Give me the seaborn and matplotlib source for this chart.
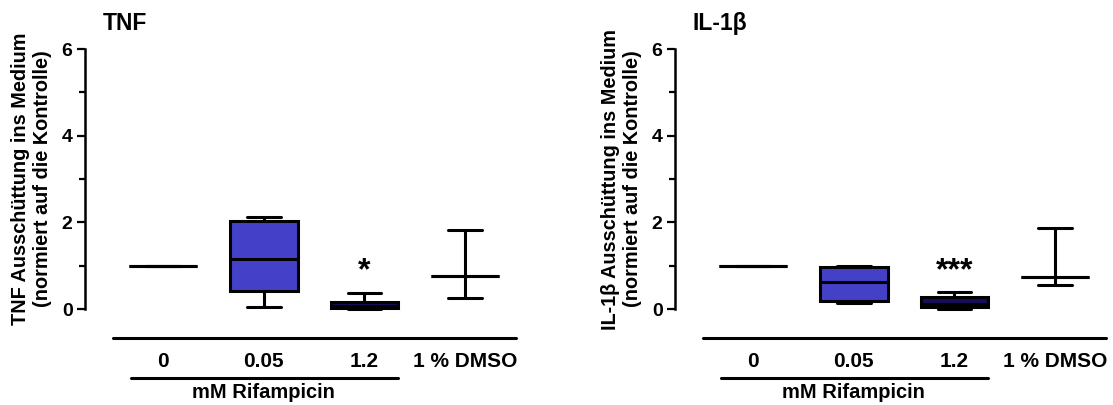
import numpy as np
import pandas as pd
import matplotlib
matplotlib.use("Agg")
import matplotlib.pyplot as plt
import matplotlib.transforms as mtrans
import seaborn as sns

# Categories / labels
groups = ["0", "0.05", "1.2", "1 % DMSO"]
group_label = "mM Rifampicin"

# TNF (min, Q1, median, Q3, max)
tnf_0 = [1.0, 1.0, 1.0, 1.0, 1.0]
tnf_005 = [0.05, 0.42, 1.15, 2.04, 2.12]
tnf_12 = [0.0, 0.02, 0.08, 0.17, 0.36]
tnf_dmso = [0.25, 0.76, 0.76, 0.76, 1.82]

# IL-1beta
il_0 = [1.0, 1.0, 1.0, 1.0, 1.0]
il_005 = [0.14, 0.18, 0.62, 0.97, 1.0]
il_12 = [0.0, 0.05, 0.12, 0.28, 0.40]
il_dmso = [0.55, 0.74, 0.74, 0.74, 1.87]

tnf_stars = "*"
il_stars = "***"

box_colors = {"0": "white", "0.05": "#4440C8", "1.2": "#1A0C5A", "1 % DMSO": "white"}

sns.set_style("ticks")
plt.rcParams["font.family"] = ["Liberation Sans", "DejaVu Sans"]
plt.rcParams["font.weight"] = "bold"
plt.rcParams["text.color"] = "black"
plt.rcParams["axes.edgecolor"] = "black"
plt.rcParams["xtick.color"] = "black"
plt.rcParams["ytick.color"] = "black"


def make_df(vals) :
    rows = []
    for g, v in zip(groups, vals) :
        for x in v :
            rows.append((g, x))
    return pd.DataFrame(rows, columns = ["group", "value"])


def draw_panel(ax, df, title, ylabel, stars) :
    sns.boxplot(
        data = df, x = "group", y = "value", hue = "group",
        order = groups, hue_order = groups, palette = box_colors, saturation = 1,
        whis = (0, 100), width = 0.67, linewidth = 2.2, linecolor = "black",
        fliersize = 0, legend = False, ax = ax
    )
    ax.set_xlim(-0.775, 3.5)
    ax.set_ylim(-0.2, 6.1)

    for s in ["top", "right", "bottom"] :
        ax.spines[s].set_visible(False)
    ax.spines["left"].set_linewidth(1.8)
    ax.spines["left"].set_color("black")
    ax.spines["left"].set_bounds(0, 6)

    ax.set_yticks([0, 2, 4, 6])
    ax.set_yticks([1, 3, 5], minor = True)
    ax.tick_params(axis = "y", which = "major", length = 6, width = 1.6, pad = 3,
                   labelsize = 14, colors = "black")
    ax.tick_params(axis = "y", which = "minor", length = 4, width = 1.6, colors = "black")
    for lab in ax.get_yticklabels() :
        lab.set_fontweight("bold")
    ax.set_xticks([])
    ax.set_xlabel("")
    ax.set_ylabel("")

    # y label (two lines)
    tr = mtrans.blended_transform_factory(ax.transAxes, ax.transData)
    ax.text(-0.125, 3.0, ylabel, transform = tr, rotation = 90, ha = "center", va = "center",
            fontsize = 14.3, fontweight = "bold", linespacing = 1.22, multialignment = "center")

    # title
    ax.text(0.04, 6.6, title, transform = tr, ha = "left", va = "center",
            fontsize = 16.5, fontweight = "bold")

    # significance stars above 1.2
    ax.text(2, 0.68, stars, ha = "center", va = "baseline", fontsize = 23, fontweight = "bold")

    # group brackets and category labels under the axis
    ax.plot([-0.5, 3.5], [-0.67, -0.67], color = "black", lw = 2.2, clip_on = False)
    for i, g in enumerate(groups) :
        ax.text(i, -1.22, g, ha = "center", va = "center", fontsize = 15, fontweight = "bold")
    ax.plot([-0.32, 2.33], [-1.59, -1.59], color = "black", lw = 2.2, clip_on = False)
    ax.text(1, -1.92, group_label, ha = "center", va = "center", fontsize = 14.5, fontweight = "bold")


fig = plt.figure(figsize = (11.13, 4.05), dpi = 100)
ax1 = fig.add_axes([0.0764, 0.2156, 0.3868, 0.674])
ax2 = fig.add_axes([0.6065, 0.2156, 0.3868, 0.674])

draw_panel(ax1, make_df([tnf_0, tnf_005, tnf_12, tnf_dmso]), "TNF",
           "TNF Ausschüttung ins Medium\n(normiert auf die Kontrolle)", tnf_stars)
draw_panel(ax2, make_df([il_0, il_005, il_12, il_dmso]), "IL-1β",
           "IL-1β Ausschüttung ins Medium\n(normiert auf die Kontrolle)", il_stars)

fig.savefig("out.png", dpi = 100)
